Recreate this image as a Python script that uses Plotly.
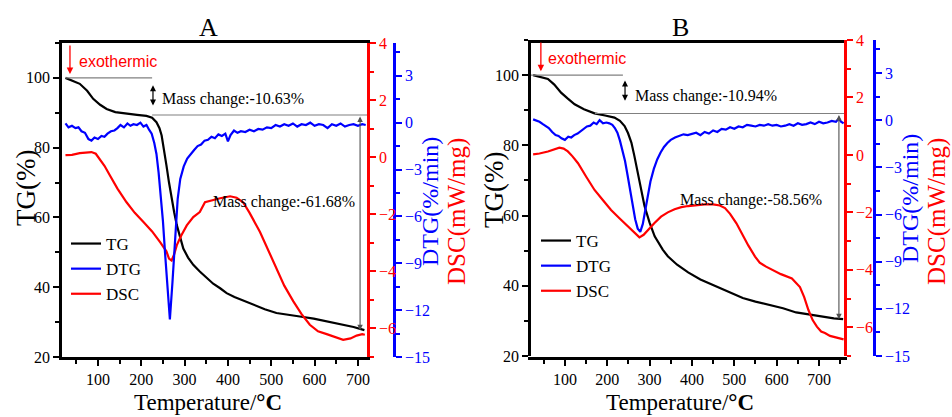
import plotly.graph_objects as go

W, H = 952, 417

# ---------------- Sample A ----------------
t_tg_a = [25, 40, 58, 75, 89, 105, 120, 140, 166, 190, 212, 225, 235, 242, 247, 252,
          258, 264, 270, 276, 282, 290, 297, 308, 320, 335, 351, 366, 382, 397, 415,
          435, 458, 485, 512, 540, 566, 598, 628, 660, 690, 715]
tg_a = [100.0, 99.3, 98.3, 96.3, 94.0, 92.3, 91.1, 90.2, 89.7, 89.4, 89.1, 88.6, 87.3,
        85.6, 83.5, 80.0, 75.0, 70.0, 65.4, 61.4, 57.8, 54.0, 51.1, 48.5, 46.4, 44.5,
        42.6, 41.0, 39.7, 38.3, 37.2, 36.2, 35.0, 33.7, 32.6, 32.0, 31.6, 31.0, 30.2,
        29.4, 28.6, 27.7]

t_dtg_a = [25, 32, 40, 48, 55, 62, 70, 78, 85, 92, 100, 108, 115, 122, 130, 138, 145,
           152, 160, 168, 175, 182, 190, 198, 205, 212, 218, 224, 230, 235, 240, 245,
           250, 255, 260, 266, 272, 278, 284, 290, 298, 306, 314, 322, 330, 338, 346,
           354, 362, 370, 378, 386, 394, 400, 406, 414, 422, 430, 440, 450, 460, 470,
           480, 490, 500, 510, 520, 530, 540, 550, 560, 570, 580, 590, 600, 610, 620,
           630, 640, 650, 660, 670, 680, 690, 700, 710, 718]
dtg_a = [-0.05, -0.30, -0.20, -0.35, -0.30, -0.55, -0.65, -1.05, -1.15, -0.95, -1.05,
         -0.85, -0.90, -0.70, -0.55, -0.50, -0.35, -0.15, -0.30, -0.05, -0.20, -0.10,
         -0.15, 0.00, -0.25, -0.15, -0.45, -0.70, -1.30, -2.00, -3.20, -4.60, -6.30,
         -8.40, -10.50, -12.60, -10.20, -7.30, -4.90, -3.60, -2.80, -2.30, -2.00, -1.75,
         -1.50, -1.40, -1.15, -1.10, -0.90, -1.00, -0.75, -0.85, -0.70, -1.20, -0.80,
         -0.50, -0.65, -0.55, -0.60, -0.45, -0.55, -0.40, -0.45, -0.30, -0.35, -0.15,
         -0.25, -0.10, -0.20, -0.05, -0.25, -0.10, -0.15, 0.00, -0.20, -0.10, -0.15,
         -0.35, -0.10, -0.20, -0.05, -0.25, -0.15, -0.10, -0.20, -0.10, -0.15]

t_dsc_a = [25, 40, 58, 72, 85, 95, 105, 115, 128, 145, 166, 185, 205, 225, 243, 258,
           264, 270, 276, 282, 292, 305, 320, 335, 347, 360, 382, 405, 420, 435, 450,
           474, 493, 512, 530, 551, 570, 589, 608, 628, 648, 666, 683, 697, 710, 716]
dsc_a = [0.07, 0.08, 0.14, 0.17, 0.18, 0.12, -0.07, -0.30, -0.65, -1.10, -1.58, -1.95,
         -2.27, -2.60, -2.97, -3.30, -3.55, -3.62, -3.40, -3.08, -2.75, -2.39, -2.10,
         -1.92, -1.58, -1.52, -1.44, -1.37, -1.42, -1.58, -1.95, -2.62, -3.25, -3.90,
         -4.50, -5.05, -5.50, -5.87, -6.10, -6.20, -6.30, -6.40, -6.35, -6.25, -6.20,
         -6.22]

# ---------------- Sample B ----------------
t_tg_b = [25, 40, 60, 75, 91, 107, 123, 145, 170, 195, 217, 230, 241, 249, 257, 264,
          272, 280, 288, 300, 312, 331, 343, 365, 391, 420, 457, 490, 520, 550, 583,
          615, 646, 675, 709, 735, 757]
tg_b = [100.0, 99.6, 98.9, 97.3, 95.0, 93.3, 91.7, 90.3, 89.1, 88.5, 87.9, 87.0, 85.5,
        83.5, 80.8, 77.0, 72.2, 67.5, 62.7, 58.0, 54.1, 50.3, 48.4, 46.0, 43.8, 41.8,
        39.8, 38.0, 36.5, 35.5, 34.6, 33.6, 32.4, 31.8, 31.2, 30.7, 30.5]

t_dtg_b = [25, 32, 40, 48, 55, 62, 70, 78, 85, 92, 100, 108, 115, 122, 130, 138, 145,
           152, 160, 168, 175, 182, 190, 198, 205, 212, 218, 224, 230, 236, 242, 248,
           254, 260, 266, 272, 278, 284, 290, 296, 302, 310, 318, 326, 334, 342, 350,
           360, 370, 380, 390, 400, 410, 420, 430, 440, 450, 460, 470, 480, 490, 500,
           510, 520, 530, 540, 550, 560, 570, 580, 590, 600, 610, 620, 630, 640, 650,
           660, 670, 680, 690, 700, 710, 720, 730, 740, 747, 752, 758]
dtg_b = [0.05, 0.00, -0.10, -0.25, -0.35, -0.50, -0.75, -0.95, -1.00, -1.15, -1.25,
         -1.05, -1.10, -0.95, -0.85, -0.70, -0.55, -0.40, -0.35, -0.15, -0.25, 0.00,
         -0.20, -0.15, -0.20, -0.30, -0.50, -0.80, -1.30, -1.90, -2.60, -3.50, -4.40,
         -5.30, -6.30, -6.90, -7.10, -6.60, -5.70, -4.70, -3.90, -3.10, -2.50, -2.05,
         -1.70, -1.45, -1.25, -1.10, -1.00, -0.90, -0.95, -0.85, -0.80, -0.95, -0.75,
         -0.85, -0.65, -0.75, -0.55, -0.60, -0.45, -0.55, -0.40, -0.45, -0.30, -0.35,
         -0.40, -0.30, -0.35, -0.25, -0.35, -0.30, -0.40, -0.35, -0.25, -0.35, -0.20,
         -0.30, -0.25, -0.15, -0.25, -0.10, -0.20, -0.15, -0.05, -0.10, 0.10, -0.10,
         -0.20]

t_dsc_b = [25, 40, 60, 75, 87, 97, 107, 118, 131, 150, 170, 190, 209, 230, 249, 263,
           276, 286, 296, 311, 327, 343, 359, 375, 391, 410, 430, 450, 466, 478, 490,
           505, 517, 533, 549, 560, 575, 588, 610, 636, 655, 665, 675, 685, 695, 705,
           714, 726, 738, 750, 758]
dsc_b = [0.02, 0.05, 0.12, 0.20, 0.25, 0.22, 0.12, -0.05, -0.29, -0.75, -1.22, -1.58,
         -1.92, -2.22, -2.50, -2.70, -2.87, -2.78, -2.61, -2.38, -2.15, -2.00, -1.89,
         -1.82, -1.78, -1.74, -1.72, -1.72, -1.76, -1.85, -2.05, -2.38, -2.73, -3.15,
         -3.54, -3.75, -3.89, -3.98, -4.15, -4.30, -4.60, -4.95, -5.40, -5.75, -5.98,
         -6.15, -6.20, -6.30, -6.35, -6.40, -6.42]

# Mass-loss steps quoted on each panel (%)
step1_a, step2_a = 10.63, 61.68
step1_b, step2_b = 10.94, 58.56

SERIF = "Liberation Serif, Times New Roman, serif"
SANS = "Liberation Sans, Arial, sans-serif"
BLUE = "#0000ff"
RED = "#ff0000"
TICK_SIZE = 16


def px_x(p):
    return p / W


def px_y(p):
    return 1 - p / H


fig = go.Figure()

panels = [
    dict(xa="x", ytg="y", ydsc="y2", ydtg="y3", leg="legend",
         t_tg=t_tg_a, tg=tg_a, t_dtg=t_dtg_a, dtg=dtg_a, t_dsc=t_dsc_a, dsc=dsc_a),
    dict(xa="x2", ytg="y4", ydsc="y5", ydtg="y6", leg="legend2",
         t_tg=t_tg_b, tg=tg_b, t_dtg=t_dtg_b, dtg=dtg_b, t_dsc=t_dsc_b, dsc=dsc_b),
]

for p in panels:
    fig.add_trace(go.Scatter(x=p["t_tg"], y=p["tg"], name="TG", mode="lines",
                             line=dict(color="black", width=2.2),
                             xaxis=p["xa"], yaxis=p["ytg"], legend=p["leg"], legendrank=1))
    fig.add_trace(go.Scatter(x=p["t_dsc"], y=p["dsc"], name="DSC", mode="lines",
                             line=dict(color=RED, width=2.2),
                             xaxis=p["xa"], yaxis=p["ydsc"], legend=p["leg"], legendrank=3))
    fig.add_trace(go.Scatter(x=p["t_dtg"], y=p["dtg"], name="DTG", mode="lines",
                             line=dict(color=BLUE, width=2.2),
                             xaxis=p["xa"], yaxis=p["ydtg"], legend=p["leg"], legendrank=2))

tickfont = dict(family=SERIF, size=TICK_SIZE, color="black")


def x_axis(domain, rng):
    return dict(domain=domain, range=rng, automargin=False, showline=True,
                linecolor="black", linewidth=2.5, mirror=True, ticks="outside",
                ticklen=6, tickwidth=2, tickcolor="black", tick0=0, dtick=100,
                tickfont=tickfont, showgrid=False, zeroline=False,
                minor=dict(ticks="outside", dtick=50, ticklen=4, tickwidth=2,
                           tickcolor="black", showgrid=False))


def tg_axis(domain, anchor):
    return dict(domain=domain, anchor=anchor, range=[20, 110], automargin=False,
                showline=True, linecolor="black", linewidth=2.5, ticks="outside",
                ticklen=6, tickwidth=2, tickcolor="black", tick0=0, dtick=20,
                tickfont=tickfont, showgrid=False, zeroline=False,
                minor=dict(ticks="outside", dtick=10, ticklen=4, tickwidth=2,
                           tickcolor="black", showgrid=False))


def dsc_axis(over, anchor):
    return dict(overlaying=over, anchor=anchor, side="right", range=[-7, 4],
                automargin=False, showline=True, linecolor=RED, linewidth=2.5,
                ticks="outside", ticklen=6, tickwidth=2, tickcolor=RED, tick0=0, dtick=2,
                tickfont=dict(family=SERIF, size=TICK_SIZE, color=RED), showgrid=False,
                zeroline=False,
                minor=dict(ticks="outside", dtick=1, ticklen=4, tickwidth=2,
                           tickcolor=RED, showgrid=False))


def dtg_axis(over, pos):
    return dict(overlaying=over, anchor="free", position=pos, side="right",
                range=[-15, 5.1], automargin=False, showline=True, linecolor=BLUE,
                linewidth=2.5, ticks="outside", ticklen=6, tickwidth=2, tickcolor=BLUE,
                tick0=0, dtick=3, tickfont=dict(family=SERIF, size=TICK_SIZE, color=BLUE),
                showgrid=False, zeroline=False,
                minor=dict(ticks="outside", dtick=1.5, ticklen=4, tickwidth=2,
                           tickcolor=BLUE, showgrid=False))


dom_xa = [px_x(62), px_x(367)]
dom_xb = [px_x(531), px_x(844)]
dom_ya = [px_y(357), px_y(43)]
dom_yb = [px_y(356), px_y(40)]

legend_style = dict(font=dict(family=SERIF, size=17, color="black"),
                    bgcolor="rgba(0,0,0,0)", borderwidth=0, itemwidth=30,
                    xanchor="left", yanchor="top", traceorder="normal")

fig.update_layout(
    template="none",
    width=W, height=H, margin=dict(l=0, r=0, t=0, b=0, pad=0), autosize=False,
    font=dict(family=SERIF, size=17, color="black"),
    paper_bgcolor="white", plot_bgcolor="white", showlegend=True,
    xaxis=x_axis(dom_xa, [17, 721]),
    xaxis2=x_axis(dom_xb, [20, 759]),
    yaxis=tg_axis(dom_ya, "x"),
    yaxis2=dsc_axis("y", "x"),
    yaxis3=dtg_axis("y", px_x(394)),
    yaxis4=tg_axis(dom_yb, "x2"),
    yaxis5=dsc_axis("y4", "x2"),
    yaxis6=dtg_axis("y4", px_x(874)),
    legend=dict(x=px_x(66), y=px_y(226), **legend_style),
    legend2=dict(x=px_x(536), y=px_y(223), **legend_style),
)

annotations = []
shapes = []


def paper_text(text, x, y, size, color, angle=0):
    return dict(text=text, xref="paper", yref="paper", x=px_x(x), y=px_y(y),
                xanchor="center", yanchor="middle", textangle=angle, showarrow=False,
                font=dict(family=SERIF, size=size, color=color))


def add_panel_notes(xa, ya, title, tx, x_exo, x_exo_txt, x_start, x_end, x_mid1, x_mid2,
                    x_dbl, dbl_top, dbl_bot, x_vert, step1, step2, txt1_x, txt2_x,
                    tg_x, dtg_x, dsc_x, tg_y, dtg_y, dsc_y):
    level1 = 100.0
    level2 = level1 - step1
    level3 = level2 - step2
    # panel letter
    annotations.append(paper_text(title, tx, 27, 26, "black"))
    # exothermic marker
    annotations.append(dict(text="", xref=xa, yref=ya, axref=xa, ayref=ya,
                            x=x_exo, y=101.1, ax=x_exo, ay=109.7, showarrow=True,
                            arrowhead=2, arrowsize=1, arrowwidth=1.3, arrowcolor=RED))
    annotations.append(dict(text="exothermic", xref=xa, yref=ya, x=x_exo_txt, y=104.6,
                            xanchor="left", yanchor="middle", showarrow=False,
                            font=dict(family=SANS, size=16, color=RED)))
    # reference levels for the mass-loss steps
    shapes.append(dict(type="line", xref=xa, yref=ya, x0=x_start, x1=x_mid1,
                       y0=level1, y1=level1, line=dict(color="#808080", width=1.2)))
    shapes.append(dict(type="line", xref=xa, yref=ya, x0=x_mid2, x1=x_end,
                       y0=level2, y1=level2, line=dict(color="#808080", width=1.2)))
    annotations.append(dict(text="", xref=xa, yref=ya, axref=xa, ayref=ya,
                            x=x_dbl, y=dbl_bot, ax=x_dbl, ay=dbl_top, showarrow=True,
                            arrowside="end+start", arrowhead=2, arrowsize=1,
                            arrowwidth=1.2, arrowcolor="black"))
    annotations.append(dict(text=f"Mass change:-{step1:.2f}%", xref=xa, yref=ya,
                            x=txt1_x, y=94.0, xanchor="left", yanchor="middle",
                            showarrow=False, font=dict(family=SERIF, size=16, color="black")))
    annotations.append(dict(text="", xref=xa, yref=ya, axref=xa, ayref=ya,
                            x=x_vert, y=level3, ax=x_vert, ay=level2, showarrow=True,
                            arrowside="end+start", arrowhead=2, arrowsize=1,
                            arrowwidth=1.1, arrowcolor="#505050"))
    annotations.append(dict(text=f"Mass change:-{step2:.2f}%", xref=xa, yref=ya,
                            x=txt2_x, y=64.3, xanchor="right", yanchor="middle",
                            showarrow=False, font=dict(family=SERIF, size=16, color="black")))
    # axis titles
    annotations.append(paper_text("TG(%)", tg_x, tg_y, 27, "black", angle=-90))
    annotations.append(paper_text("DTG(%/min)", dtg_x, dtg_y, 24, BLUE, angle=-90))
    annotations.append(paper_text("DSC(mW/mg)", dsc_x, dsc_y, 25, RED, angle=-90))
    annotations.append(paper_text("Temperature/<b>°C</b>", tx, 402, 23, "black"))


add_panel_notes("x", "y", "A", 208, 35.4, 51.5, 26, 721, 225, 225, 227, 98.3, 92.1, 705,
                step1_a, step2_a, 243, 698, 26, 430, 457, 188, 202, 212)
add_panel_notes("x2", "y4", "B", 680, 43.3, 55, 20, 759, 237, 171, 242, 98.9, 92.7, 747,
                step1_b, step2_b, 261, 712, 494, 910, 937, 190, 199, 212)

fig.update_layout(annotations=annotations, shapes=shapes)

fig.write_html("out.html")
